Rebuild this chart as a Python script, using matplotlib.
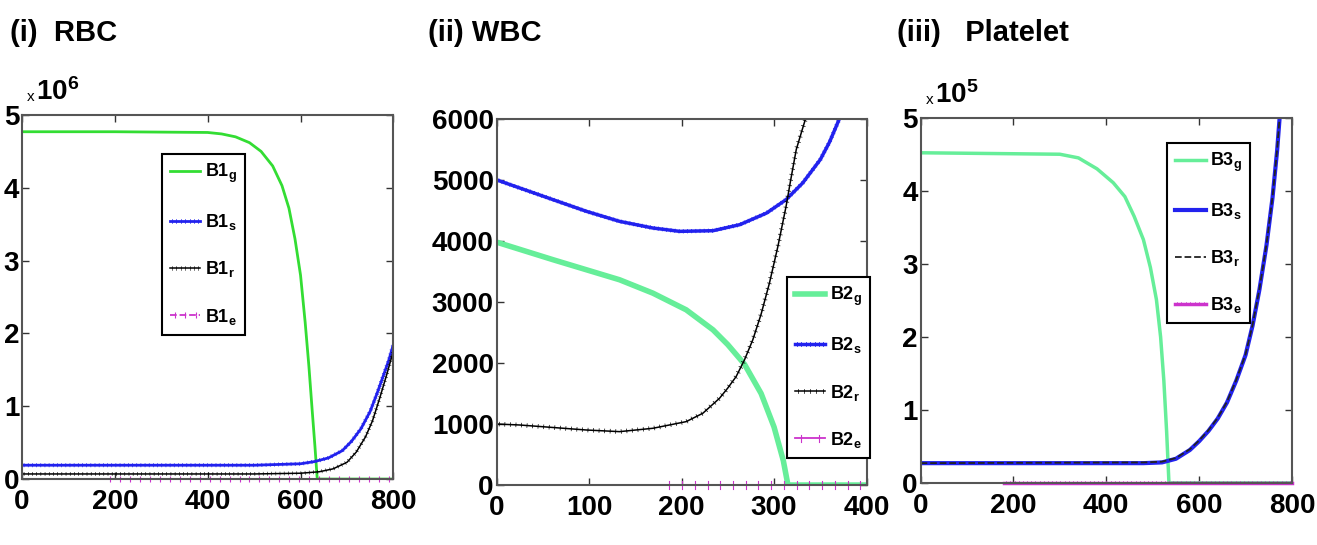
import numpy as np
import matplotlib
matplotlib.use("Agg")
import matplotlib.pyplot as plt
from matplotlib import patheffects

plt.rcParams['font.family'] = ['Liberation Sans', 'DejaVu Sans']
plt.rcParams['font.weight'] = 'bold'
plt.rcParams['mathtext.fontset'] = 'custom'
plt.rcParams['mathtext.rm'] = 'Liberation Sans:bold'
plt.rcParams['mathtext.it'] = 'Liberation Sans:bold'
plt.rcParams['mathtext.bf'] = 'Liberation Sans:bold'
plt.rcParams['mathtext.default'] = 'rm'

# ---- (i) RBC, values in units of 1e6 ----
rbc_g_x = [0, 200, 400, 430, 460, 490, 515, 540, 560, 575, 588, 600, 610, 618, 625, 631, 636, 800]
rbc_g_y = [4.77, 4.77, 4.76, 4.74, 4.70, 4.62, 4.50, 4.30, 4.03, 3.72, 3.30, 2.80, 2.15, 1.55,
           0.95, 0.45, 0.0, 0.0]
rbc_s_x = [0, 500, 600, 630, 660, 690, 710, 730, 750, 765, 780, 790, 800]
rbc_s_y = [0.19, 0.19, 0.21, 0.24, 0.29, 0.39, 0.52, 0.69, 0.93, 1.18, 1.45, 1.63, 1.85]
rbc_r_x = [0, 500, 600, 640, 670, 700, 720, 740, 755, 770, 785, 800]
rbc_r_y = [0.07, 0.07, 0.08, 0.10, 0.14, 0.23, 0.37, 0.58, 0.80, 1.10, 1.42, 1.76]
rbc_e_x = [180, 800]
rbc_e_y = [0.0, 0.0]

# ---- (ii) WBC ----
wbc_g_x = [0, 61, 133, 169, 205, 234, 250, 268, 286, 300, 310, 315, 400]
wbc_g_y = [3980, 3692, 3363, 3144, 2871, 2543, 2300, 1980, 1500, 950, 400, 0, 0]
wbc_s_x = [0, 61, 97, 133, 169, 198, 234, 263, 292, 313, 331, 350, 360, 372]
wbc_s_y = [5000, 4676, 4485, 4320, 4211, 4156, 4167, 4266, 4457, 4676, 4950, 5333, 5620, 6050]
wbc_r_x = [0, 25, 97, 133, 169, 205, 223, 241, 250, 259, 268, 277, 286, 295, 304, 313, 318, 324, 330, 336]
wbc_r_y = [1000, 984, 902, 875, 930, 1039, 1176, 1421, 1590, 1777, 2050, 2379, 2800, 3309, 3900,
           4567, 5000, 5497, 5800, 6100]
wbc_e_x = [180, 400]
wbc_e_y = [0, 0]

# ---- (iii) Platelet, values in units of 1e5 ----
plt_g_x = [0, 300, 340, 380, 415, 440, 460, 480, 495, 508, 517, 524, 530, 535, 800]
plt_g_y = [4.52, 4.50, 4.45, 4.30, 4.11, 3.92, 3.65, 3.33, 2.95, 2.51, 2.00, 1.40, 0.70, 0.0, 0.0]
plt_s_x = [0, 480, 520, 550, 580, 600, 620, 640, 660, 680, 700, 715, 730, 745, 758, 768, 774]
plt_s_y = [0.27, 0.27, 0.28, 0.33, 0.45, 0.57, 0.71, 0.88, 1.10, 1.40, 1.75, 2.15, 2.65, 3.25,
           3.90, 4.55, 5.05]
plt_r_x = plt_s_x
plt_r_y = [0.27, 0.28, 0.29, 0.34, 0.46, 0.58, 0.72, 0.89, 1.11, 1.41, 1.76, 2.16, 2.66, 3.26,
           3.91, 4.56, 5.06]
plt_e_x = [180, 800]
plt_e_y = [0.0, 0.0]

green1 = '#33dd33'
green2 = '#66ee99'
blue = '#2222ee'
magenta = '#cc33cc'


def ticks(spacing, length, lw):
    # little crosses along a line, like dense MATLAB markers
    return [patheffects.Normal(),
            patheffects.TickedStroke(spacing=spacing, angle=90, length=length, linewidth=lw),
            patheffects.TickedStroke(spacing=spacing, angle=-90, length=length, linewidth=lw)]


fig = plt.figure(figsize=(13.17, 5.45), dpi=100)
ax1 = fig.add_axes([0.0167, 0.121, 0.282, 0.668])
ax2 = fig.add_axes([0.377, 0.110, 0.281, 0.672])
ax3 = fig.add_axes([0.699, 0.114, 0.282, 0.670])

# panel 1
ax1.plot(rbc_g_x, rbc_g_y, color=green1, lw=2, label='B1$_g$')
ax1.plot(rbc_s_x, rbc_s_y, color=blue, lw=2, label='B1$_s$', path_effects=ticks(3, 0.4, 0.5))
ax1.plot(rbc_r_x, rbc_r_y, color='black', lw=1.1, label='B1$_r$', path_effects=ticks(3, 0.4, 0.4))
ax1.plot(rbc_e_x, rbc_e_y, color=magenta, lw=1.3, ls='--', label='B1$_e$', clip_on=False,
         path_effects=ticks(7, 0.3, 0.8))
ax1.set_xlim(0, 800)
ax1.set_ylim(0, 5)
ax1.set_xticks([0, 200, 400, 600, 800])
ax1.set_yticks([0, 1, 2, 3, 4, 5])

# panel 2
ax2.plot(wbc_g_x, wbc_g_y, color=green2, lw=4, label='B2$_g$')
ax2.plot(wbc_s_x, wbc_s_y, color=blue, lw=2.5, label='B2$_s$', path_effects=ticks(3, 0.4, 0.6))
ax2.plot(wbc_r_x, wbc_r_y, color='black', lw=1.1, label='B2$_r$', path_effects=ticks(4, 0.35, 0.5))
ax2.plot(wbc_e_x, wbc_e_y, color=magenta, lw=1.3, label='B2$_e$', clip_on=False,
         path_effects=ticks(9, 0.3, 0.8))
ax2.set_xlim(0, 400)
ax2.set_ylim(0, 6000)
ax2.set_xticks([0, 100, 200, 300, 400])
ax2.set_yticks([0, 1000, 2000, 3000, 4000, 5000, 6000])

# panel 3
ax3.plot(plt_g_x, plt_g_y, color=green2, lw=2.5, label='B3$_g$')
ax3.plot(plt_s_x, plt_s_y, color=blue, lw=3, label='B3$_s$')
ax3.plot(plt_r_x, plt_r_y, color='#222222', lw=1.3, ls='--', label='B3$_r$')
ax3.plot(plt_e_x, plt_e_y, color=magenta, lw=2.5, label='B3$_e$', clip_on=False,
         path_effects=ticks(3, 0.35, 0.5))
ax3.set_xlim(0, 800)
ax3.set_ylim(0, 5)
ax3.set_xticks([0, 200, 400, 600, 800])
ax3.set_yticks([0, 1, 2, 3, 4, 5])

for ax in (ax1, ax2, ax3):
    ax.tick_params(direction='in', top=True, right=True, length=5, width=1,
                   labelsize=20, pad=2, colors='#333333', labelcolor='black')
    ax.tick_params(axis='x', pad=7)
    for lab in ax.get_xticklabels() + ax.get_yticklabels():
        lab.set_fontweight('bold')
    for sp in ax.spines.values():
        sp.set_color('#555555')
        sp.set_linewidth(1.5)

leg_kw = dict(loc='upper left', fontsize=13, frameon=True, fancybox=False,
              framealpha=1, edgecolor='black', labelspacing=1.5, borderaxespad=0,
              handlelength=1.7, handletextpad=0.25, borderpad=0.45)
for ax, anchor in ((ax1, (0.376, 0.893)), (ax2, (0.784, 0.568)), (ax3, (0.663, 0.932))):
    leg = ax.legend(bbox_to_anchor=anchor, **leg_kw)
    leg.get_frame().set_linewidth(1.5)

# multiplier labels
for ax, power in ((ax1, '6'), (ax3, '5')):
    ax.text(0.013, 1.03, 'x', transform=ax.transAxes, fontsize=11,
            fontweight='normal', ha='left', va='bottom')
    ax.text(0.038, 1.025, '10$^{' + power + '}$', transform=ax.transAxes,
            fontsize=20, ha='left', va='bottom')

fig.text(0.0076, 0.925, '(i)  RBC', fontsize=21, fontweight='bold')
fig.text(0.325, 0.925, '(ii) WBC', fontsize=21, fontweight='bold')
fig.text(0.681, 0.925, '(iii)   Platelet', fontsize=21, fontweight='bold')

fig.savefig('out.png', dpi=100)
